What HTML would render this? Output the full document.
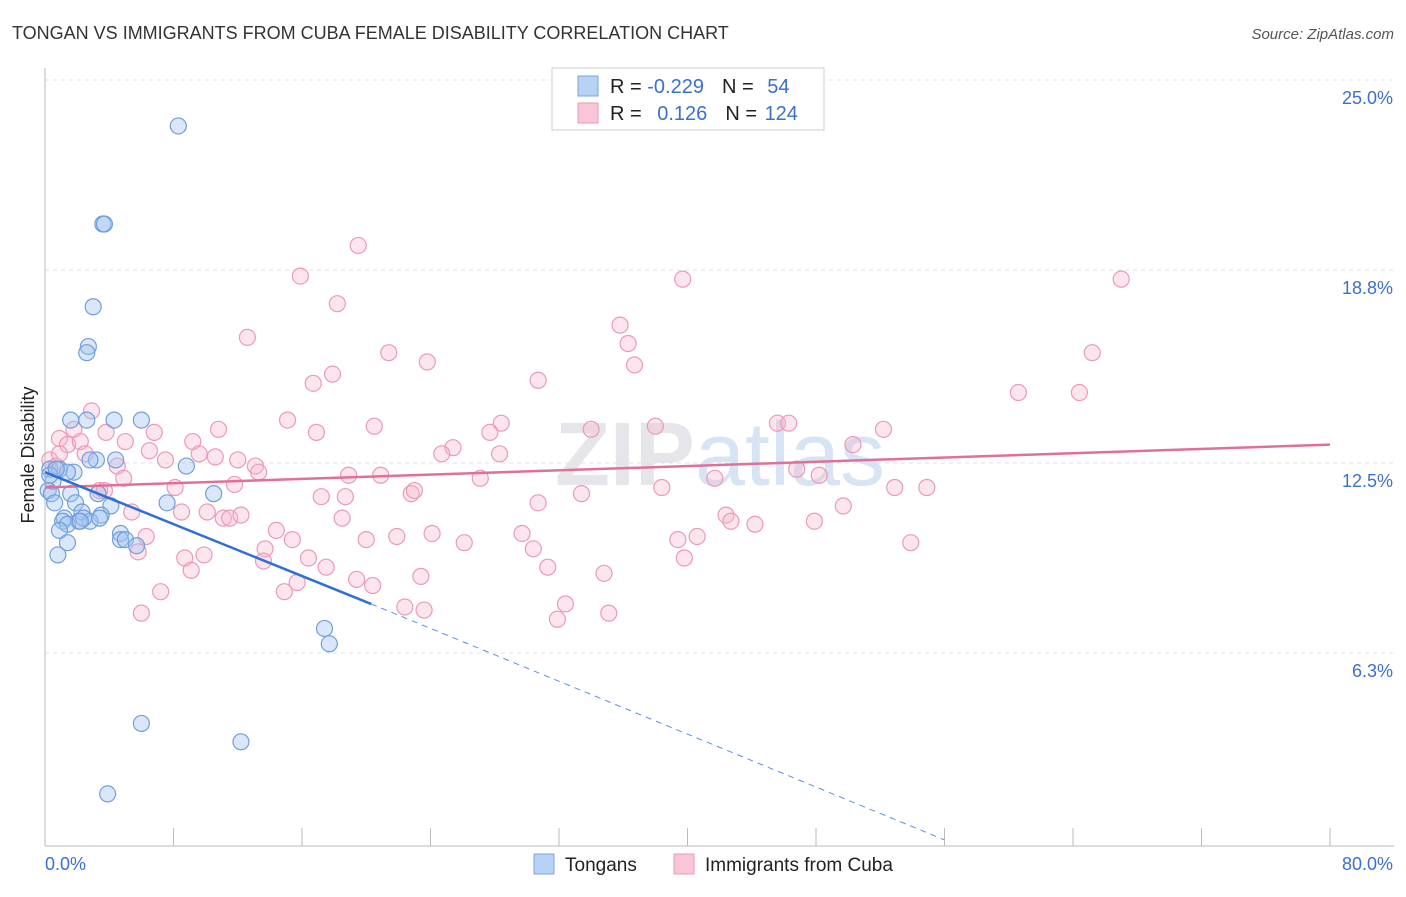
<!DOCTYPE html>
<html><head><meta charset="utf-8"><style>
body{margin:0;background:#fff;font-family:"Liberation Sans",sans-serif}
svg text{font-family:"Liberation Sans",sans-serif}
</style></head><body>
<svg id="chart" width="1406" height="892" viewBox="0 0 1406 892">
<text x="12" y="39" font-size="18" fill="#333">TONGAN VS IMMIGRANTS FROM CUBA FEMALE DISABILITY CORRELATION CHART</text>
<text x="1394" y="39" font-size="15" fill="#555" font-style="italic" text-anchor="end">Source: ZipAtlas.com</text>
<text x="720" y="485" font-size="90" fill="#e6e6ea" text-anchor="middle" font-weight="bold">ZIP<tspan fill="#d6e4f4" font-weight="normal">atlas</tspan></text>
<g id="grid"></g><g id="axes"></g><g id="pts"></g><g id="lines"></g>
<text transform="translate(34,455) rotate(-90)" font-size="18" fill="#222" text-anchor="middle">Female Disability</text>
<g>
<rect x="552" y="68" width="272" height="62" fill="#fff" stroke="#ccc"/>
<rect x="578" y="76" width="20" height="20" fill="#b6d2f4" stroke="#7aa6e0"/>
<rect x="578" y="103" width="20" height="20" fill="#f9c6d6" stroke="#ec9ab6"/>
<text x="610" y="93" font-size="20" fill="#222">R = <tspan fill="#3a70d0">-0.229</tspan><tspan dx="18">N = </tspan><tspan fill="#3a70d0" dx="8">54</tspan></text>
<text x="610" y="120" font-size="20" fill="#222">R = <tspan fill="#3a70d0" dx="10">0.126</tspan><tspan dx="18">N = </tspan><tspan fill="#3a70d0" dx="2">124</tspan></text>
</g>
<g>
<rect x="534" y="854" width="20" height="20" fill="#b6d2f4" stroke="#7aa6e0"/>
<text x="565" y="871" font-size="19" fill="#222">Tongans</text>
<rect x="674" y="854" width="20" height="20" fill="#f9c6d6" stroke="#ec9ab6"/>
<text x="705" y="871" font-size="19" fill="#222">Immigrants from Cuba</text>
</g>
</svg>
<script>
const yTicks=[25.0,18.8,12.5,6.3];
const yTickLabels=["25.0%","18.8%","12.5%","6.3%"];
const xTickLabels=["0.0%","80.0%"];
const blueX=[8.3,3.6,3.7,3.0,2.7,2.6,1.6,2.6,4.3,6.0,3.2,4.4,8.8,0.3,0.9,1.8,1.4,0.5,0.2,0.4,1.6,3.3,10.5,0.6,1.9,4.1,7.6,2.3,3.5,1.2,1.1,2.1,2.8,2.4,1.4,0.9,4.7,4.7,5.0,5.7,1.4,0.8,17.4,17.7,6.0,12.2,3.9,2.2,3.4,0.3,0.7,2.8];
const blueY=[23.5,20.3,20.3,17.6,16.3,16.1,13.9,13.9,13.9,13.9,12.6,12.6,12.4,12.3,12.3,12.2,12.2,11.9,11.6,11.5,11.5,11.5,11.5,11.2,11.2,11.1,11.2,10.9,10.8,10.7,10.6,10.6,10.6,10.7,10.5,10.3,10.2,10.0,10.0,9.8,9.9,9.5,7.1,6.6,4.0,3.4,1.7,10.6,10.7,12.1,12.3,12.6];
const pinkX=[19.5,15.9,39.7,67.0,18.2,35.8,12.6,36.3,65.2,21.4,23.8,36.7,17.9,16.7,30.7,60.6,64.4,2.9,15.1,28.4,45.6,46.3,20.5,52.2,38.0,34.0,10.8,16.9,27.7,6.8,0.9,1.8,3.8,5.0,9.2,25.4,50.3,1.4,2.2,24.7,28.3,6.5,9.6,10.6,2.5,0.3,0.7,4.5,7.5,12.0,13.1,13.3,18.9,20.9,27.1,41.7,46.8,48.2,11.8,4.9,8.1,38.4,52.9,54.9,22.8,23.0,17.2,18.7,3.4,30.7,33.4,49.7,8.5,10.1,11.1,11.5,12.2,18.5,42.4,42.7,44.2,47.9,5.4,14.4,24.1,29.7,6.3,15.4,20.0,21.9,26.1,39.4,40.6,13.7,16.4,30.4,39.8,53.9,8.7,9.9,13.6,17.5,31.3,9.1,34.8,23.4,19.4,20.4,15.7,14.9,7.2,32.4,22.4,23.6,35.1,31.9,6.0,5.8,3.7,0.9];
const pinkY=[19.6,18.6,18.5,18.5,17.7,17.0,16.6,16.4,16.1,16.1,15.8,15.7,15.4,15.1,15.2,14.8,14.8,14.2,13.9,13.8,13.8,13.8,13.7,13.6,13.7,13.6,13.6,13.5,13.5,13.5,13.3,13.6,13.5,13.2,13.2,13.0,13.1,13.1,13.2,12.8,12.8,12.9,12.8,12.7,12.8,12.6,12.4,12.4,12.6,12.6,12.4,12.2,12.1,12.1,12.0,12.0,12.3,12.1,11.8,12.0,11.7,11.7,11.7,11.7,11.5,11.6,11.4,11.4,11.6,11.2,11.5,11.1,10.9,10.9,10.7,10.7,10.8,10.7,10.8,10.6,10.5,10.6,10.9,10.3,10.2,10.2,10.1,10.0,10.0,10.1,9.9,10.0,10.1,9.7,9.4,9.7,9.4,9.9,9.4,9.5,9.3,9.1,9.1,9.0,8.9,8.8,8.7,8.5,8.6,8.3,8.3,7.9,7.8,7.7,7.6,7.4,7.6,9.6,11.6,12.8];
const blueLine=[0,12.2,20.3,7.9];const blueDash=[20.3,7.9,56,0.2];
const pinkLine=[0,11.7,80,13.1];
const NS="http://www.w3.org/2000/svg";
const L=45,R=1330,T=80,B=846;
const sx=v=>L+v/80*(R-L);
const sy=v=>B-v/25*(B-T);
function mk(tag,attrs,parent){const e=document.createElementNS(NS,tag);for(const k in attrs)e.setAttribute(k,attrs[k]);document.getElementById(parent).appendChild(e);return e;}
yTicks.forEach((t,i)=>{
 const g=mk('line',{x1:L,x2:1394,y1:sy(t),y2:sy(t),stroke:'#e2e2e2','stroke-dasharray':'4,4'},'grid');
 
 
 const tx=mk('text',{x:1393,y:sy(t)+24,'font-size':18,fill:'#3a70d0','text-anchor':'end'},'axes');
 tx.textContent=yTickLabels[i];
 
 
});
let a=mk('line',{x1:L,x2:L,y1:68,y2:B,stroke:'#bbb'},'axes');


a=mk('line',{x1:L,x2:1394,y1:B,y2:B,stroke:'#bbb'},'axes');


for(let i=0;i<=10;i++){const t=mk('line',{x1:sx(i*8),x2:sx(i*8),y1:828,y2:B,stroke:'#bbb'},'axes');
 
 }
[[0,'start',45],[1,'end',1393]].forEach(([i,an,x])=>{const t=mk('text',{x:x,y:870,'font-size':18,fill:'#3a70d0','text-anchor':an},'axes');t.textContent=xTickLabels[i];
 
 });
pinkX.forEach((x,i)=>{const c=mk('circle',{cx:sx(x),cy:sy(pinkY[i]),r:8,fill:'rgba(246,180,202,0.35)',stroke:'#eb9ab7','stroke-width':1.2},'pts');
 
 });
blueX.forEach((x,i)=>{const c=mk('circle',{cx:sx(x),cy:sy(blueY[i]),r:8,fill:'rgba(160,196,240,0.4)',stroke:'#6f9fdc','stroke-width':1.2},'pts');
 
 });
let ln=mk('line',{x1:sx(pinkLine[0]),y1:sy(pinkLine[1]),x2:sx(pinkLine[2]),y2:sy(pinkLine[3]),stroke:'#e0709a','stroke-width':2.5},'lines');


ln=mk('line',{x1:sx(blueLine[0]),y1:sy(blueLine[1]),x2:sx(blueLine[2]),y2:sy(blueLine[3]),stroke:'#2f6fd6','stroke-width':2.5},'lines');


ln=mk('line',{x1:sx(blueDash[0]),y1:sy(blueDash[1]),x2:sx(blueDash[2]),y2:sy(blueDash[3]),stroke:'#5b8fe0','stroke-width':1,'stroke-dasharray':'6,5'},'lines');


</script>
</body></html>
